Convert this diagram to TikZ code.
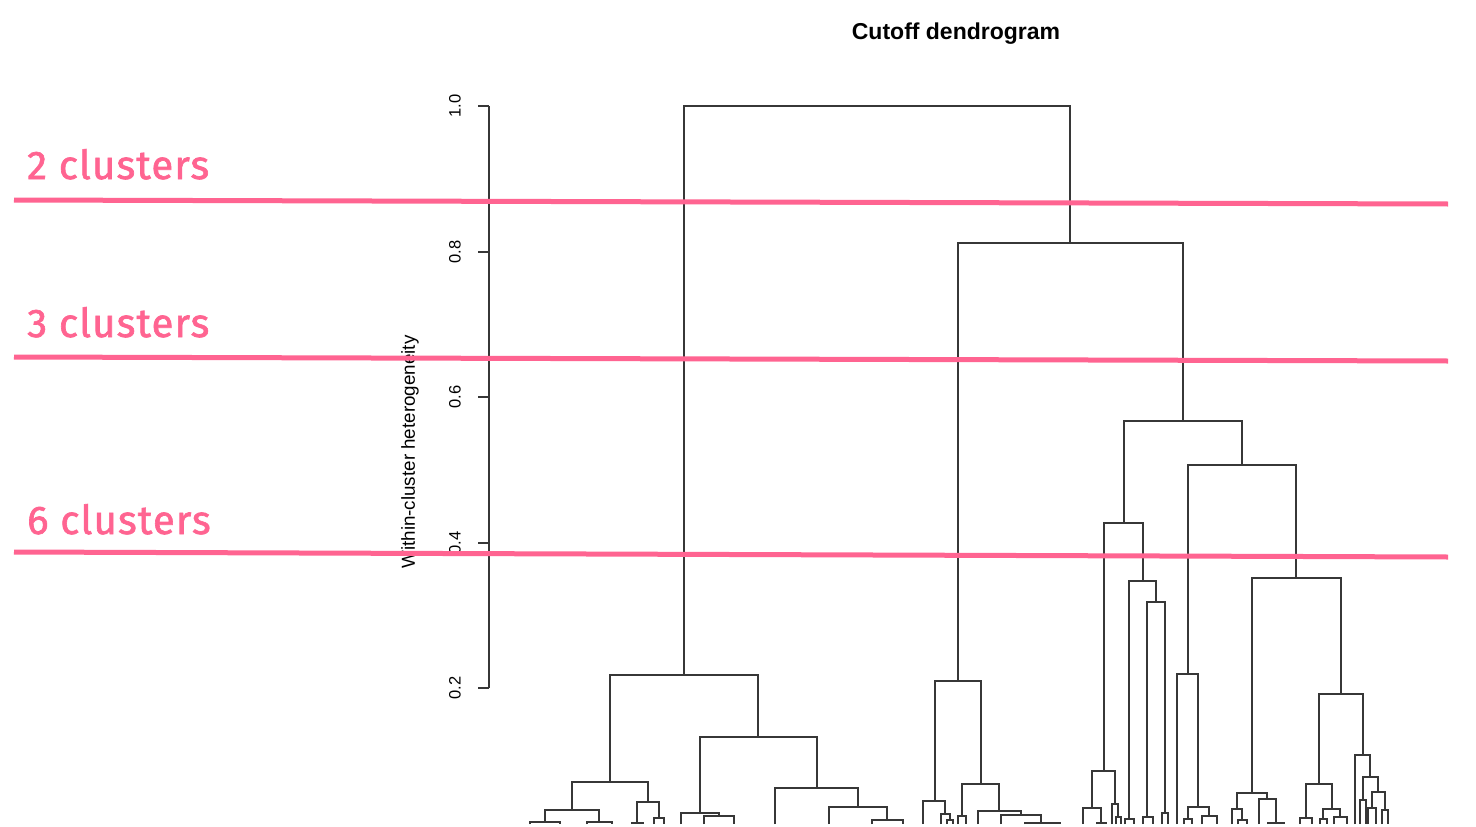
\documentclass[tikz,border=0pt]{standalone}
\usepackage{fontspec}
\setmainfont{Liberation Sans}
\newfontfamily\firafont{Fira Sans}[FakeBold=1.6,LetterSpace=3]
\definecolor{pinkc}{RGB}{255,100,145}
\definecolor{dgray}{RGB}{55,55,55}
\newcommand\nd[3]{\coordinate (#1) at (#2,#3);}
\newcommand\lf[2]{\coordinate (#1) at (#2,824);}
\newcommand\mrg[3]{\draw[dend] (#2) |- (#1) -| (#3);}
\begin{document}
\begin{tikzpicture}[x=1pt,y=-1pt,
  dend/.style={draw=dgray,line width=1.4pt},
  cut/.style={draw=pinkc,line width=5pt},
  cutlab/.style={text=pinkc,font=\firafont\fontsize{40}{48}\selectfont,anchor=base west,inner sep=0pt},
  ticklab/.style={font=\fontsize{16.5}{20}\selectfont,rotate=90,inner sep=0pt}]
\useasboundingbox (0,0) rectangle (1476,827);
\fill[white] (0,0) rectangle (1476,827);

% title and axis
\node[font=\bfseries\fontsize{23}{27}\selectfont] (title) at (956,34) {Cutoff dendrogram};
\node[rotate=90,font=\fontsize{18.8}{22}\selectfont,inner sep=0pt] (ylab) at (410,452) {Within-cluster heterogeneity};
\coordinate (ax1) at (489,106);
\coordinate (ax2) at (489,688);
\draw[dend,line width=1.2pt] (ax1) -- (ax2);
\foreach \v/\yy in {1.0/106,0.8/252,0.6/397,0.4/543,0.2/688}{
  \coordinate (tk\yy) at (478,\yy);
  \draw[dend,line width=1.2pt] (tk\yy) -- (489,\yy);
  \node[ticklab] (tl\yy) at (455,\yy) {\v};
}

% ---------------- dendrogram ----------------
\nd{R}{877}{106}
\nd{L}{684}{675} \nd{Rt}{1070}{243}
\mrg{R}{L}{Rt}
% left cluster
\nd{L1}{610}{782} \nd{L2}{758}{737}
\mrg{L}{L1}{L2}
\nd{L11}{572}{810} \nd{L12}{648}{802}
\mrg{L1}{L11}{L12}
\nd{L111}{545}{822} \nd{L112}{599}{822}
\mrg{L11}{L111}{L112}
\lf{a1}{530} \lf{a2}{560} \mrg{L111}{a1}{a2}
\lf{a3}{587} \lf{a4}{612} \mrg{L112}{a3}{a4}
\nd{L121}{637}{823} \nd{L122}{659}{818}
\mrg{L12}{L121}{L122}
\lf{a5}{632} \lf{a6}{643} \mrg{L121}{a5}{a6}
\lf{a7}{654} \lf{a8}{664} \mrg{L122}{a7}{a8}
\nd{L21}{700}{813} \nd{L22}{817}{788}
\mrg{L2}{L21}{L22}
\lf{a9}{681} \nd{L212}{719}{816} \mrg{L21}{a9}{L212}
\lf{a10}{704} \lf{a11}{734} \mrg{L212}{a10}{a11}
\lf{a12}{775} \nd{L222}{858}{807} \mrg{L22}{a12}{L222}
\lf{a13}{829} \nd{L2222}{887}{820} \mrg{L222}{a13}{L2222}
\lf{a14}{872} \lf{a15}{903} \mrg{L2222}{a14}{a15}
% right cluster
\nd{A}{958}{681} \nd{B}{1183}{421}
\mrg{Rt}{A}{B}
\nd{A1}{935}{801} \nd{A2}{981}{784}
\mrg{A}{A1}{A2}
\lf{b1}{923} \nd{A12}{945}{814} \mrg{A1}{b1}{A12}
\lf{b2}{941} \nd{A122}{950}{820} \mrg{A12}{b2}{A122}
\lf{b3}{947} \lf{b4}{953} \mrg{A122}{b3}{b4}
\nd{A21}{962}{816} \nd{A22}{999}{811}
\mrg{A2}{A21}{A22}
\lf{b5}{958} \lf{b6}{966} \mrg{A21}{b5}{b6}
\lf{b7}{978} \nd{A222}{1021}{815} \mrg{A22}{b7}{A222}
\lf{b8}{1001} \nd{A2222}{1041}{823} \mrg{A222}{b8}{A2222}
\lf{b9}{1025} \lf{b10}{1060} \mrg{A2222}{b9}{b10}
\nd{B1}{1124}{523} \nd{B2}{1242}{465}
\mrg{B}{B1}{B2}
\nd{B11}{1104}{771} \nd{B12}{1143}{581}
\mrg{B1}{B11}{B12}
\nd{B111}{1092}{808} \nd{B112}{1115}{804}
\mrg{B11}{B111}{B112}
\lf{c1}{1083} \nd{B1112}{1101}{823} \mrg{B111}{c1}{B1112}
\lf{c2}{1097} \lf{c3}{1106} \mrg{B1112}{c2}{c3}
\lf{c4}{1112} \nd{B1122}{1118}{817} \mrg{B112}{c4}{B1122}
\lf{c5}{1116} \lf{c6}{1121} \mrg{B1122}{c5}{c6}
\nd{B121}{1129}{819} \nd{B122}{1156}{602}
\mrg{B12}{B121}{B122}
\lf{c7}{1125} \lf{c8}{1134} \mrg{B121}{c7}{c8}
\nd{B1221}{1147}{817} \nd{B1222}{1165}{813}
\mrg{B122}{B1221}{B1222}
\lf{c9}{1143} \lf{c10}{1153} \mrg{B1221}{c9}{c10}
\lf{c11}{1162} \lf{c12}{1168} \mrg{B1222}{c11}{c12}
\nd{B21}{1188}{674} \nd{B22}{1296}{578}
\mrg{B2}{B21}{B22}
\lf{d1}{1177} \nd{B212}{1198}{807} \mrg{B21}{d1}{B212}
\nd{B2121}{1188}{819} \nd{B2122}{1209}{816}
\mrg{B212}{B2121}{B2122}
\lf{d2}{1184} \lf{d3}{1192} \mrg{B2121}{d2}{d3}
\lf{d4}{1202} \lf{d5}{1217} \mrg{B2122}{d4}{d5}
\nd{B221}{1252}{793} \nd{B222}{1341}{694}
\mrg{B22}{B221}{B222}
\nd{B2211}{1237}{809} \nd{B2212}{1267}{799}
\mrg{B221}{B2211}{B2212}
\lf{e1}{1232} \nd{B22112}{1242}{820} \mrg{B2211}{e1}{B22112}
\lf{e2}{1238} \lf{e3}{1247} \mrg{B22112}{e2}{e3}
\lf{e4}{1259} \nd{B22122}{1276}{823} \mrg{B2212}{e4}{B22122}
\lf{e5}{1268} \lf{e6}{1284} \mrg{B22122}{e5}{e6}
\nd{B2221}{1319}{784} \nd{B2222}{1363}{755}
\mrg{B222}{B2221}{B2222}
\nd{B22211}{1306}{818} \nd{B22212}{1332}{809}
\mrg{B2221}{B22211}{B22212}
\lf{f1}{1300} \lf{f2}{1312} \mrg{B22211}{f1}{f2}
\nd{B222121}{1323}{819} \nd{B222122}{1340}{817}
\mrg{B22212}{B222121}{B222122}
\lf{f3}{1320} \lf{f4}{1327} \mrg{B222121}{f3}{f4}
\lf{f5}{1334} \lf{f6}{1347} \mrg{B222122}{f5}{f6}
\lf{g1}{1355} \nd{B22222}{1370}{777} \mrg{B2222}{g1}{B22222}
\nd{B222221}{1363}{800} \nd{B222222}{1378}{792}
\mrg{B22222}{B222221}{B222222}
\lf{g2}{1360} \lf{g3}{1366} \mrg{B222221}{g2}{g3}
\nd{B2222221}{1372}{808} \nd{B2222222}{1385}{810}
\mrg{B222222}{B2222221}{B2222222}
\lf{g4}{1368} \lf{g5}{1376} \mrg{B2222221}{g4}{g5}
\lf{g6}{1382} \lf{g7}{1388} \mrg{B2222222}{g6}{g7}

% ---------------- cut lines ----------------
\coordinate (c2a) at (14,200); \coordinate (c2b) at (1448,204);
\coordinate (c3a) at (14,357); \coordinate (c3b) at (1448,361);
\coordinate (c6a) at (14,552); \coordinate (c6b) at (1448,557);
\draw[cut] (c2a) -- (c2b);
\draw[cut] (c3a) -- (c3b);
\draw[cut] (c6a) -- (c6b);
\node[cutlab] (k2) at (27,179) {2 clusters};
\node[cutlab] (k3) at (27,337) {3 clusters};
\node[cutlab] (k6) at (27,534) {6 clusters};
\end{tikzpicture}
\end{document}
